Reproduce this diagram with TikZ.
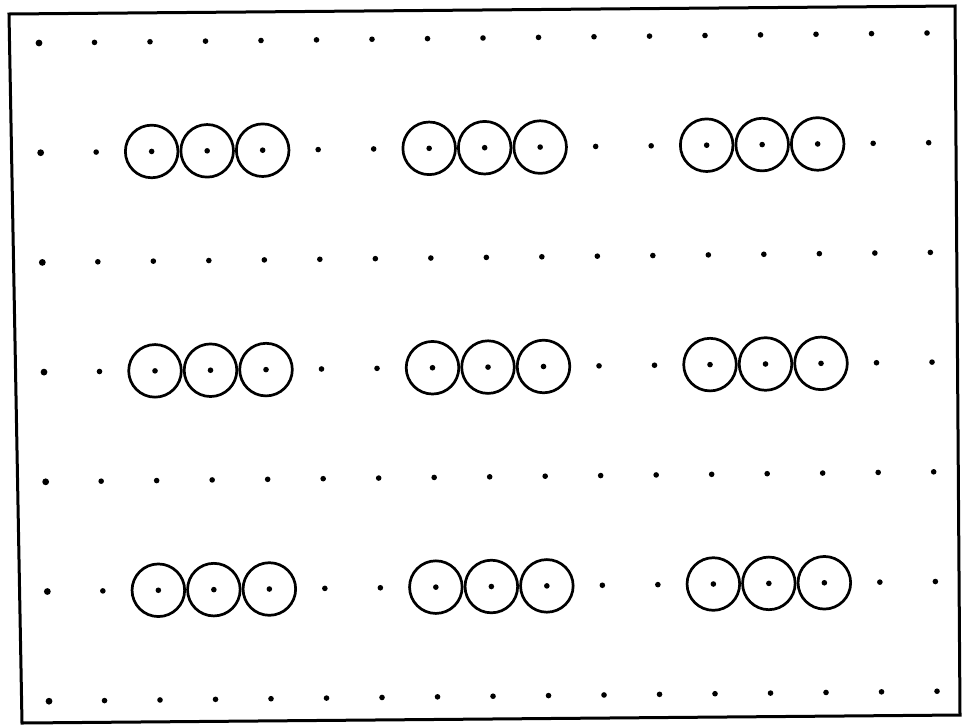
\documentclass[tikz,border=0pt]{standalone}
\begin{document}
\begin{tikzpicture}[x=1pt,y=-1pt,
  gridpt/.style={fill=black},
  ring/.style={draw=black,line width=2.7pt},
  frame/.style={draw=black,line width=3pt,line join=miter}]
\useasboundingbox (0,0) rectangle (963,726);
\coordinate (tl) at (9,14);
\coordinate (tr) at (955,6);
\coordinate (br) at (960,715);
\coordinate (bl) at (22,723);
\draw[frame] (tl) -- (tr) -- (br) -- (bl) -- cycle;
\foreach \r in {0,...,6} {
  \foreach \c in {0,...,16} {
    \pgfmathsetmacro\px{39+55.5*\c+1.67*\r}
    \pgfmathsetmacro\py{43-0.625*\c+109.7*\r}
    \pgfmathsetmacro\pr{ifthenelse(\c==0,3.4,2.8)}
    \fill[gridpt] (\px,\py) circle (\pr pt);
  }
}
\foreach \r in {1,3,5} {
  \foreach \g in {2,7,12} {
    \foreach \k in {0,1,2} {
      \pgfmathsetmacro\c{\g+\k}
      \pgfmathsetmacro\px{39+55.5*\c+1.67*\r}
      \pgfmathsetmacro\py{43-0.625*\c+109.7*\r}
      \draw[ring] (\px,\py) circle (26.3pt);
    }
  }
}
\end{tikzpicture}
\end{document}
